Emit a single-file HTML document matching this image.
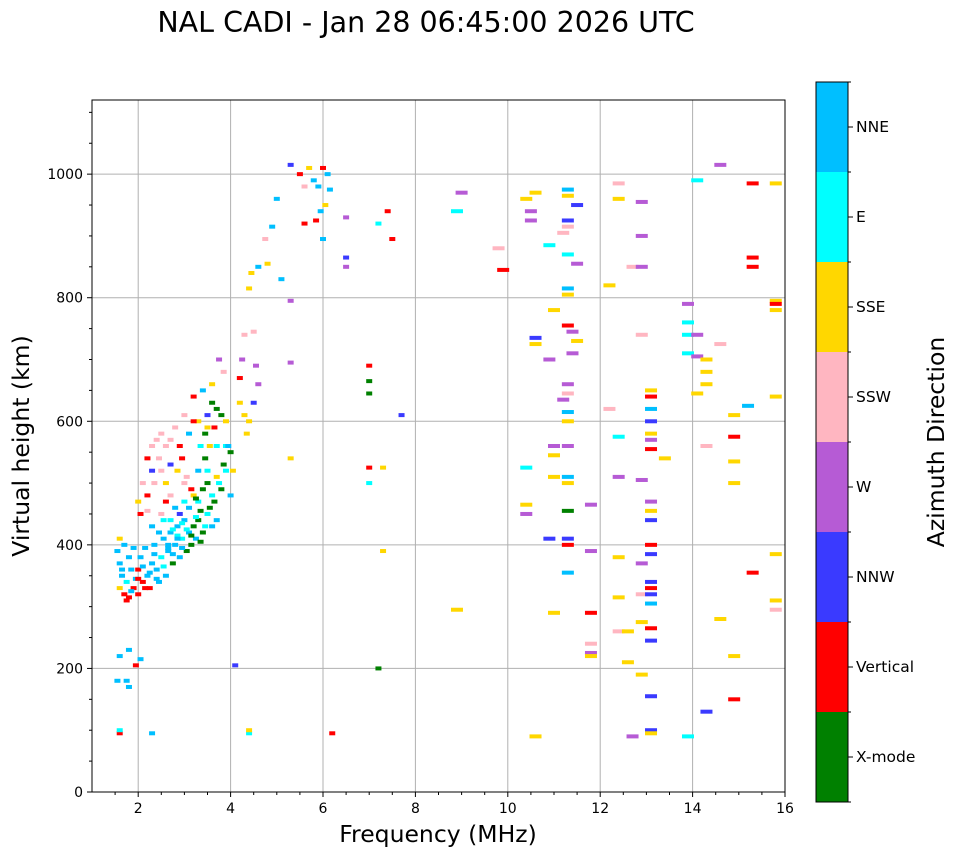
<!DOCTYPE html>
<html><head><meta charset="utf-8"><style>
html,body{margin:0;padding:0;background:#fff;}
body{width:958px;height:857px;overflow:hidden;font-family:"DejaVu Sans","Liberation Sans",sans-serif;}
</style></head><body>
<svg id="chart" width="958" height="857" xmlns="http://www.w3.org/2000/svg" font-family="DejaVu Sans, Liberation Sans, sans-serif">
<text x="426" y="32" font-size="28.5" text-anchor="middle">NAL CADI - Jan 28 06:45:00 2026 UTC</text>
<g id="grid"></g>
<g id="marks"></g>
<rect x="92" y="100" width="693" height="692" fill="none" stroke="#000" stroke-width="1"/>
<g id="axes"></g>
<text x="438" y="842" font-size="23.5" text-anchor="middle">Frequency (MHz)</text>
<text transform="translate(29,446) rotate(-90)" font-size="23.5" text-anchor="middle">Virtual height (km)</text>
<g id="cbar"></g>
<text transform="translate(944,442) rotate(-90)" font-size="23.5" text-anchor="middle">Azimuth Direction</text>
</svg>
<script>
const dirLabels=["X-mode","Vertical","NNW","W","SSW","SSE","E","NNE"];
const dirColors=["#008000","#ff0000","#3a3aff","#b65bd5","#ffb6c1","#ffd700","#00ffff","#00bfff"];
const xTicks=[2,4,6,8,10,12,14,16];
const yTicks=[0,200,400,600,800,1000];
const freqs=[1.55,1.6,1.65,1.6,1.7,1.75,1.8,1.85,1.9,1.7,1.6,1.8,1.95,2.0,2.0,2.05,2.1,2.15,2.2,2.25,2.3,2.35,2.4,2.45,2.5,2.55,2.6,2.65,2.7,2.75,2.8,2.85,2.9,2.95,3.0,3.05,3.1,3.15,3.2,3.25,3.3,3.4,3.5,3.6,3.7,2.3,2.5,2.6,2.7,2.8,2.9,3.0,3.1,3.2,3.3,3.4,3.5,3.6,3.7,3.8,3.9,4.0,3.3,3.45,3.55,3.65,3.7,3.6,3.5,3.4,3.3,3.2,3.1,3.0,2.9,2.8,2.7,2.6,2.5,2.4,2.3,2.2,2.3,2.1,2.2,2.0,2.05,2.5,2.6,2.7,2.85,2.95,3.05,3.15,3.35,3.45,3.6,3.75,3.85,3.9,4.0,4.05,3.9,1.8,1.6,1.55,1.75,1.8,2.05,1.95,1.6,1.6,2.3,4.1,4.4,4.4,
4.2,4.3,4.4,4.35,4.5,4.6,4.55,4.5,4.3,4.25,4.2,4.4,4.45,4.6,4.8,4.75,4.9,5.0,5.3,5.5,5.6,5.7,5.8,5.9,6.0,6.1,6.15,6.05,5.95,5.85,5.6,6.0,6.5,6.5,6.5,5.3,5.1,5.3,5.3,6.2,7.0,7.0,7.0,7.0,7.0,7.3,7.3,7.2,7.2,7.4,7.5,7.7,
8.9,9.0,8.9,9.8,9.9,10.4,10.5,10.5,10.6,10.4,10.4,10.4,10.6,10.6,10.6,10.9,10.9,11.0,11.0,11.0,11.0,11.0,10.9,11.2,11.3,11.3,11.3,11.3,11.3,11.3,11.3,11.3,11.3,11.3,11.3,11.3,11.3,11.3,11.3,11.3,11.3,11.3,11.3,11.2,11.4,11.4,11.5,11.5,11.5,11.8,11.8,11.8,11.8,11.8,11.8,12.2,12.2,12.4,12.4,12.4,12.4,12.4,12.4,12.4,12.6,12.6,12.7,12.7,12.9,12.9,12.9,12.9,12.9,12.9,12.9,12.9,12.9,13.1,13.1,13.1,13.1,13.1,13.1,13.1,13.1,13.1,13.1,13.1,13.1,13.1,13.1,13.1,13.1,13.1,13.1,13.1,13.1,13.1,13.4,13.9,13.9,13.9,13.9,13.9,14.1,14.1,14.1,14.1,14.3,14.3,14.3,14.3,14.3,14.6,14.6,14.6,14.9,14.9,14.9,14.9,14.9,14.9,15.2,15.3,15.3,15.3,15.3,15.8,15.8,15.8,15.8,15.8,15.8,15.8,15.8,
1.65,1.75,1.85,1.9,2.0,2.1,2.15,2.25,2.35,2.4,2.55,2.65,2.75,2.85,2.95,3.05,3.15,3.25,3.35,3.45,3.55,2.45,2.55,2.65,2.75,2.85,2.95,3.25,3.35,3.5,3.65,3.75,3.85,3.95,2.2,2.35,2.45,2.7,3.0,3.2,3.5,3.7,3.8];
const heights=[390,370,350,330,320,340,315,360,330,400,410,380,345,320,360,380,340,395,350,330,370,400,360,340,380,410,350,390,420,370,400,430,380,410,440,390,420,400,430,410,440,420,450,430,440,430,450,470,440,460,450,470,460,480,470,490,500,480,510,490,520,480,520,540,560,590,620,630,610,650,600,640,580,610,560,590,570,560,580,570,560,540,520,500,480,470,450,520,500,530,520,540,510,490,560,580,660,700,680,600,550,520,560,230,220,180,180,170,215,205,95,100,95,205,95,100,
630,610,600,580,630,660,690,745,740,700,670,815,840,850,855,895,915,960,1015,1000,980,1010,990,980,1010,1000,975,950,940,925,920,895,865,850,930,795,830,695,540,95,690,665,645,525,500,525,390,200,920,940,895,610,
940,970,295,880,845,960,940,925,970,525,465,450,735,725,90,885,700,780,560,545,510,290,410,905,975,965,925,915,870,815,805,755,660,645,615,600,560,510,500,455,410,400,355,635,745,710,950,730,855,390,465,290,240,225,220,820,620,985,960,575,510,380,315,260,260,210,850,90,955,900,850,740,505,370,320,275,190,650,640,620,600,580,570,555,470,455,440,400,385,340,330,320,305,265,245,155,100,95,540,790,760,740,710,90,990,740,705,645,700,680,660,560,130,1015,725,280,610,575,535,500,220,150,625,985,865,850,355,985,795,790,780,640,385,310,295,
360,310,325,395,345,365,330,355,385,345,365,395,385,415,395,425,415,445,405,430,460,420,440,400,425,410,435,475,455,520,470,500,530,560,455,500,540,480,500,600,590,560,610];
const dirs=[7,7,7,5,1,6,1,7,1,7,5,7,7,1,1,7,1,7,7,1,7,7,7,7,6,7,7,7,7,0,7,7,7,6,7,0,7,0,0,7,0,0,6,7,7,7,4,1,6,7,2,6,7,5,6,0,0,6,5,0,6,7,7,0,5,1,0,0,2,7,5,1,7,4,1,4,4,4,4,4,4,1,2,4,1,5,1,4,5,2,5,1,4,1,6,0,5,3,4,5,0,5,6,7,7,7,7,7,7,1,1,6,7,2,6,5,
5,5,5,5,2,3,3,4,4,3,1,5,5,7,5,4,7,7,2,1,4,5,7,7,1,7,7,5,7,1,1,7,2,3,3,3,7,3,5,1,1,0,0,1,6,5,5,0,6,1,1,2,
6,3,5,4,1,5,3,3,5,6,5,3,2,5,5,6,3,5,3,5,5,5,2,4,7,5,2,4,6,7,5,1,3,4,7,5,3,7,5,0,2,1,7,3,3,3,2,5,3,3,3,1,4,3,5,5,4,4,5,6,3,5,5,4,5,5,4,3,3,3,3,4,3,3,4,5,5,5,1,7,2,5,3,1,3,5,2,1,2,2,1,2,7,1,2,2,2,5,5,3,6,6,6,6,6,3,3,5,5,5,5,4,2,3,4,5,5,1,5,5,5,1,7,1,1,1,1,5,5,1,5,5,5,5,4,
7,1,7,7,1,7,1,7,7,7,6,7,7,6,7,6,0,6,0,6,0,7,6,7,6,7,6,0,0,6,0,6,0,7,4,4,4,4,4,1,5,6,0];
const NS="http://www.w3.org/2000/svg";
const X0=92,X1=785,Y0=792,Y1=100,FMIN=1,FMAX=16,HMIN=0,HMAX=1120;
function xs(f){return X0+(f-FMIN)/(FMAX-FMIN)*(X1-X0);}
function ys(h){return Y0-(h-HMIN)/(HMAX-HMIN)*(Y0-Y1);}
function mk(t,a,parent){const e=document.createElementNS(NS,t);for(const k in a)e.setAttribute(k,a[k]);parent.appendChild(e);return e;}
const grid=document.getElementById('grid'),axes=document.getElementById('axes'),marks=document.getElementById('marks'),cbar=document.getElementById('cbar');
xTicks.forEach(v=>{const x=xs(v);
 const g=mk('line',{x1:x,x2:x,y1:Y1,y2:Y0,stroke:'#b0b0b0','stroke-width':1},grid);
 
 
 mk('line',{x1:x,x2:x,y1:Y0,y2:Y0+5,stroke:'#000'},axes);
 const t=mk('text',{x:x,y:Y0+21,'font-size':14,'text-anchor':'middle'},axes);t.textContent=v;
 
 
});
for(let v=1.5;v<16;v+=0.5){if(v%2===0)continue;const x=xs(v);mk('line',{x1:x,x2:x,y1:Y0,y2:Y0+3,stroke:'#000'},axes);}
yTicks.forEach(v=>{const y=ys(v);
 const g=mk('line',{x1:X0,x2:X1,y1:y,y2:y,stroke:'#b0b0b0','stroke-width':1},grid);
 
 
 mk('line',{x1:X0-5,x2:X0,y1:y,y2:y,stroke:'#000'},axes);
 const t=mk('text',{x:X0-9,y:y+5,'font-size':14,'text-anchor':'end'},axes);t.textContent=v;
 
 
});
for(let v=50;v<1120;v+=50){if(v%200===0)continue;const y=ys(v);mk('line',{x1:X0-3,x2:X0,y1:y,y2:y,stroke:'#000'},axes);}
for(let i=0;i<freqs.length;i++){
 const w=freqs[i]>8?12:6;
 const r=mk('rect',{x:xs(freqs[i])-w/2,y:ys(heights[i])-2,width:w,height:4,fill:dirColors[dirs[i]]},marks);
 
 
}
const CX=816,CW=32,CT=82,CB=802,seg=(CB-CT)/8;
for(let i=0;i<8;i++){
 const y=CB-(i+1)*seg;
 const r=mk('rect',{x:CX,y:y,width:CW,height:seg,fill:dirColors[i]},cbar);
 
 
 mk('line',{x1:CX+CW,x2:CX+CW+5,y1:y+seg/2,y2:y+seg/2,stroke:'#000'},cbar);
 const t=mk('text',{x:CX+CW+8,y:y+seg/2+5,'font-size':15.5},cbar);t.textContent=dirLabels[i];
 
 
}
for(let i=0;i<=8;i++){const y=CB-i*seg;mk('line',{x1:CX+CW,x2:CX+CW+3,y1:y,y2:y,stroke:'#000'},cbar);}
mk('rect',{x:CX,y:CT,width:CW,height:CB-CT,fill:'none',stroke:'#000'},cbar);
</script>
</body></html>
